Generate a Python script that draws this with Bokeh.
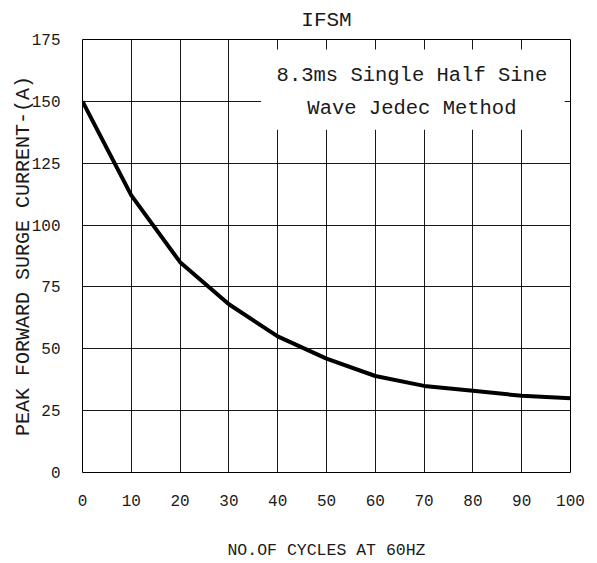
from bokeh.plotting import figure
from bokeh.models import BoxAnnotation, FixedTicker, Range1d
from bokeh.embed import file_html
from bokeh.resources import INLINE
from bokeh.core.properties import value

cycles = [0, 10, 20, 30, 40, 50, 60, 70, 80, 90, 100]
current = [150, 112, 85, 68, 55, 46, 39, 35, 33, 31, 30]
x_ticks = [0, 10, 20, 30, 40, 50, 60, 70, 80, 90, 100]
y_ticks = [0, 25, 50, 75, 100, 125, 150, 175]
note_lines = ["8.3ms Single Half Sine", "Wave Jedec Method"]

FONT = "Liberation Mono"
TXT = "#1a1a1a"

p = figure(width=597, height=563, output_backend="svg", toolbar_location=None,
           x_range=Range1d(0, 100), y_range=Range1d(0, 175),
           min_border_left=82, min_border_right=27, min_border_top=39, min_border_bottom=91,
           title="IFSM")
p.title.align = "center"
p.title.vertical_align = "top"
p.title.text_font = FONT
p.title.text_font_size = "21px"
p.title.text_font_style = "normal"
p.title.text_color = TXT
p.title.offset = 0
p.title.standoff = 12

p.outline_line_color = "black"
p.outline_line_width = 1
p.outline_line_alpha = 1
p.background_fill_color = "white"
p.border_fill_color = "white"

p.xaxis.ticker = FixedTicker(ticks=x_ticks)
p.yaxis.ticker = FixedTicker(ticks=y_ticks)
for ax in (p.xaxis, p.yaxis):
    ax.axis_line_color = None
    ax.major_tick_line_color = None
    ax.minor_tick_line_color = None
    ax.major_label_text_font = FONT
    ax.major_label_text_font_size = "16px"
    ax.major_label_text_color = TXT
    ax.axis_label_text_font = FONT
    ax.axis_label_text_font_style = "normal"
    ax.axis_label_text_color = TXT
p.xaxis.major_label_standoff = 16
p.yaxis.major_label_standoff = 16
p.xaxis.axis_label = "NO.OF CYCLES AT 60HZ"
p.xaxis.axis_label_text_font_size = "16.5px"
p.xaxis.axis_label_standoff = 32
p.yaxis.axis_label = "PEAK FORWARD SURGE CURRENT-(A)"
p.yaxis.axis_label_text_font_size = "20px"
p.yaxis.axis_label_standoff = -6

p.grid.grid_line_color = "black"
p.grid.grid_line_width = 1
p.grid.grid_line_alpha = 0.9

p.line(cycles, current, line_color="black", line_width=4, line_join="round")

box = BoxAnnotation(left=36.6, right=98.8, top=171, bottom=138.5,
                    fill_color="white", fill_alpha=1, line_color=None, level="underlay")
p.add_layout(box)

p.text(x=[67.5, 67.5], y=[160.3, 147.3], text=note_lines,
       text_font=value(FONT), text_font_size="20.5px", text_color=TXT,
       text_align="center", text_baseline="middle")

open("out.html", "w").write(file_html(p, INLINE))
